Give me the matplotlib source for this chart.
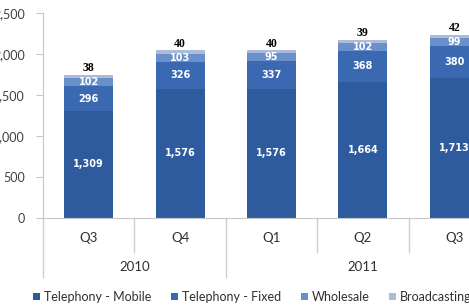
import matplotlib
matplotlib.use("Agg")
import matplotlib.pyplot as plt
import numpy as np

quarters = ["Q3", "Q4", "Q1", "Q2", "Q3"]
years = ["2010", "2011"]
year_spans = [(0, 1), (2, 4)]
mobile = [1309, 1576, 1576, 1664, 1713]
fixed = [296, 326, 337, 368, 380]
wholesale = [102, 103, 95, 102, 99]
broadcasting = [38, 40, 40, 39, 42]
series_names = ["Telephony - Mobile", "Telephony - Fixed", "Wholesale", "Broadcasting"]
yticks = [0, 500, 1000, 1500, 2000, 2500]

plt.rcParams['font.family'] = ['Lato', 'DejaVu Sans']

W, H = 469, 307
fig = plt.figure(figsize=(W / 100, H / 100), dpi=100)
left_px, right_px, top_px, bot_px = 43, 500, 13, 218
ax = fig.add_axes([left_px / W, (H - bot_px) / H, (right_px - left_px) / W, (bot_px - top_px) / H])

colors = ["#2E5B9E", "#3A69B2", "#6990CB", "#AEBBD8"]
x = np.arange(len(quarters))
bw = 0.535
data = [mobile, fixed, wholesale, broadcasting]
bottom = np.zeros(len(x))
bars = []
for vals, c, name in zip(data, colors, series_names):
    b = ax.bar(x, vals, bw, bottom=bottom, color=c, label=name, edgecolor='none')
    bars.append(b)
    bottom = bottom + np.array(vals)

# labels
bottom = np.zeros(len(x))
for si, vals in enumerate(data[:3]):
    for i, v in enumerate(vals):
        ax.text(x[i], bottom[i] + v / 2, f"{v:,}", ha='center', va='center',
                color='white', fontsize=7, fontweight='bold', family=['DejaVu Sans'])
    bottom = bottom + np.array(vals)
for i, v in enumerate(broadcasting):
    ax.text(x[i], bottom[i] + v + 6, f"{v}", ha='center', va='bottom',
            color='black', fontsize=8.5, fontweight='bold', family=['Liberation Serif'])

ax.set_xlim(-0.5, len(x) - 0.5)
ax.set_ylim(0, 2500)
ax.set_yticks(yticks)
ax.set_yticklabels([f"{v:,}" for v in yticks])
ax.tick_params(axis='y', length=5, color='#C8C8C8', pad=8, labelsize=9, labelcolor='#404040')
ax.set_xticks([])
for s in ['top', 'right']:
    ax.spines[s].set_visible(False)
ax.spines['left'].set_color('#C8C8C8')
ax.spines['bottom'].set_color('#C8C8C8')

# multi-level category axis
trans = ax.get_xaxis_transform()
def ypx(p):
    return (bot_px - p) / (bot_px - top_px)
for i, q in enumerate(quarters):
    ax.text(x[i], ypx(238), q, transform=trans, ha='center', va='center', fontsize=9.5, color='#303030')
for (a, b), yr in zip(year_spans, years):
    ax.text((a + b) / 2, ypx(267), yr, transform=trans, ha='center', va='center', fontsize=9.5, color='#303030')
year_bounds = [-0.5, 1.5]
for k in range(len(x)):
    xb = k - 0.5
    yend = 277 if xb in year_bounds else 252
    ax.plot([xb, xb], [0, ypx(yend)], transform=trans, color='#D0D0D0', lw=1, clip_on=False)

leg = fig.legend(handles=bars, labels=series_names, loc='center left',
                 bbox_to_anchor=(33 / W, 1 - 297 / H), ncol=4, frameon=False,
                 fontsize=9, handlelength=0.55, handleheight=0.55, handletextpad=0.3,
                 columnspacing=1.6, borderaxespad=0, borderpad=0)
for t in leg.get_texts():
    t.set_color('#303030')

fig.savefig("out.png", dpi=100)
